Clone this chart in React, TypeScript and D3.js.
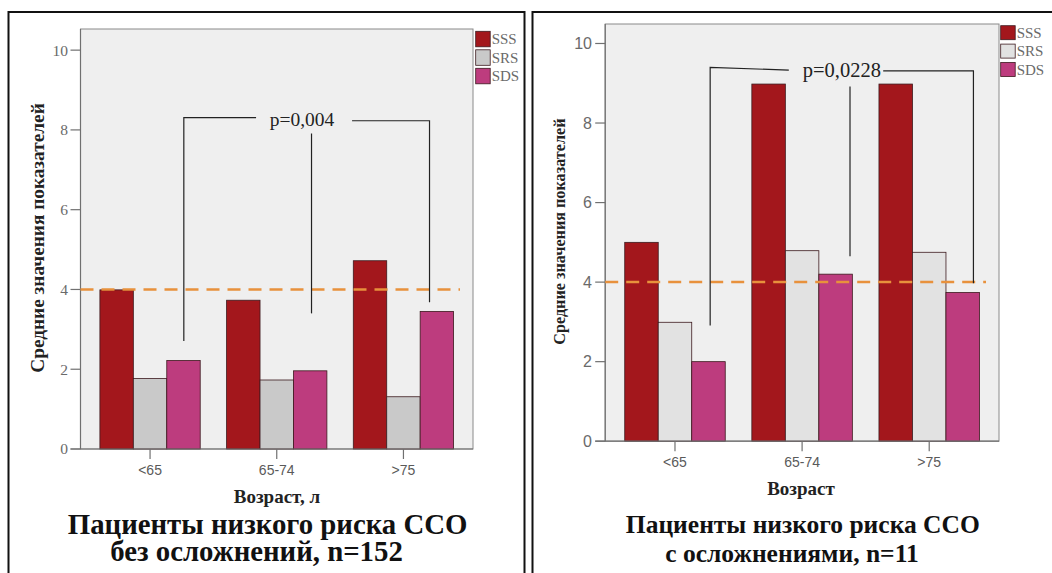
import React from 'react';
import * as d3 from 'd3';

const categories = ['<65', '65-74', '>75'];
const seriesNames = ['SSS', 'SRS', 'SDS'];
const leftSSS = [3.99, 3.73, 4.72];
const leftSRS = [1.77, 1.73, 1.31];
const leftSDS = [2.22, 1.96, 3.45];
const rightSSS = [5.0, 8.98, 8.98];
const rightSRS = [2.99, 4.79, 4.75];
const rightSDS = [2.0, 4.2, 3.74];
const yTicks = [0, 2, 4, 6, 8, 10];
const referenceLevel = 4;
const leftPValue = 'p=0,004';
const rightPValue = 'p=0,0228';
// bracket levels: leftBottom, leftTop, leftLineEnd, midTop, midBottom, rightLineStart, rightBottom
const leftBracket = [2.71, 8.31, 8.31, 7.91, 3.4, 8.23, 3.68];
const rightBracket = [2.91, 9.4, 9.33, 8.92, 4.65, 9.31, 3.97];
const leftTitle = ['Пациенты низкого риска ССО', 'без осложнений, n=152'];
const rightTitle = ['Пациенты низкого риска ССО', 'с осложнениями, n=11'];
const yLabel = 'Средние значения показателей';
const leftXLabel = 'Возраст, л';
const rightXLabel = 'Возраст';

const SERIF = '"Liberation Serif", "Times New Roman", serif';
const SANS = '"Liberation Sans", Arial, sans-serif';

const colorsLeft = ['#a3171c', '#c9c9c9', '#bd3c7e'];
const colorsRight = ['#a3171c', '#e2e2e2', '#bd3c7e'];

type Cfg = {
  left: number; right: number; top: number; bottom: number; yMax: number;
  groupW: number; colors: string[];
  yTickFont: string; yTickSize: number; yTickX: number;
  xTickBaseline: number; xLabelX: number; xLabelY: number; xLabelSize: number;
  yLabelX: number; yLabelY: number; yLabelSize: number;
  legendX: number; legendY: number; legendStep: number; legendH: number;
  bracketFracs: number[]; textDx: number; lineEnds: number[]; pSize: number;
  titleX: number[]; titleY: number[]; titleSize: number;
};

const leftCfg: Cfg = {
  left: 80.5, right: 473, top: 29, bottom: 449, yMax: 10.53, groupW: 100.3, colors: colorsLeft,
  yTickFont: SERIF, yTickSize: 15.5, yTickX: 68,
  xTickBaseline: 475, xLabelX: 277, xLabelY: 503, xLabelSize: 19,
  yLabelX: 37, yLabelY: 238, yLabelSize: 19.3,
  legendX: 475.7, legendY: 31.3, legendStep: 18.5, legendH: 15.5,
  bracketFracs: [0.51, 0.54, 0.28], textDx: -4.6, lineEnds: [-50.6, 45.4], pSize: 19.5,
  titleX: [267.6, 256.5], titleY: [534, 561], titleSize: 28.8,
};

const rightCfg: Cfg = {
  left: 605.2, right: 999, top: 24, bottom: 441.2, yMax: 10.49, groupW: 100.5, colors: colorsRight,
  yTickFont: SANS, yTickSize: 16, yTickX: 592,
  xTickBaseline: 466.5, xLabelX: 801, xLabelY: 495, xLabelSize: 19,
  yLabelX: 559.5, yLabelY: 231.6, yLabelSize: 16.2,
  legendX: 1000.7, legendY: 25.7, legendStep: 18.4, legendH: 14,
  bracketFracs: [0.55, 0.93, 0.82], textDx: 0, lineEnds: [-53, 41.4], pSize: 20.5,
  titleX: [802.8, 792], titleY: [533, 562], titleSize: 25.5,
};

function Panel({ cfg, values, bracket, pText, title, xLabel }: {
  cfg: Cfg; values: number[][]; bracket: number[]; pText: string; title: string[]; xLabel: string;
}) {
  const y = d3.scaleLinear().domain([0, cfg.yMax]).range([cfg.bottom, cfg.top]);
  const x = d3.scalePoint<string>().domain(categories).range([cfg.left, cfg.right]).padding(0.549);
  const inner = d3.scaleBand<string>().domain(seriesNames).range([-cfg.groupW / 2, cfg.groupW / 2]);
  const bw = inner.bandwidth();

  const sdsLeft = (ci: number) => (x(categories[ci]) as number) + (inner('SDS') as number);
  const bx = [0, 1, 2].map((ci) => sdsLeft(ci) + bw * cfg.bracketFracs[ci]);
  const mid = (bx[0] + bx[2]) / 2;
  const textX = mid + cfg.textDx;
  const textY = (y(bracket[2]) + y(bracket[5])) / 2 + cfg.pSize * 0.33;

  return (
    <g>
      <rect x={cfg.left} y={cfg.top} width={cfg.right - cfg.left} height={cfg.bottom - cfg.top}
        fill="#efefef" stroke="#8a8a8a" strokeWidth={1} />
      {categories.map((c, ci) =>
        seriesNames.map((s, si) => {
          const v = values[si][ci];
          return (
            <rect key={c + s}
              x={(x(c) as number) + (inner(s) as number)} y={y(v)}
              width={bw} height={y(0) - y(v)}
              fill={cfg.colors[si]} stroke="#3c1a1e" strokeWidth={0.8} />
          );
        })
      )}
      <line x1={cfg.left} x2={cfg.left} y1={cfg.top} y2={cfg.bottom} stroke="#707070" strokeWidth={1.2} />
      <line x1={cfg.left - 10} x2={cfg.right} y1={cfg.bottom} y2={cfg.bottom} stroke="#707070" strokeWidth={1.2} />
      {yTicks.map((t) => (
        <g key={t}>
          <line x1={cfg.left - 10} x2={cfg.left} y1={y(t)} y2={y(t)} stroke="#707070" strokeWidth={1.2} />
          <text x={cfg.yTickX} y={y(t)} dy="0.35em" textAnchor="end" fontFamily={cfg.yTickFont}
            fontSize={cfg.yTickSize} fill="#6a6a6a">{t}</text>
        </g>
      ))}
      {categories.map((c) => (
        <g key={c}>
          <line x1={x(c)} x2={x(c)} y1={cfg.bottom} y2={cfg.bottom + 10} stroke="#707070" strokeWidth={1.2} />
          <text x={x(c)} y={cfg.xTickBaseline} textAnchor="middle" fontFamily={SANS} fontSize={14}
            fill="#5a5a5a">{c}</text>
        </g>
      ))}
      <line x1={cfg.left} x2={cfg.right - 13} y1={y(referenceLevel)} y2={y(referenceLevel)}
        stroke="#e8913c" strokeWidth={2.5} strokeDasharray="13 8" />
      <g stroke="#222" strokeWidth={1.2} fill="none">
        <polyline points={`${bx[0]},${y(bracket[0])} ${bx[0]},${y(bracket[1])} ${mid + cfg.lineEnds[0]},${y(bracket[2])}`} />
        <line x1={bx[1]} x2={bx[1]} y1={y(bracket[3])} y2={y(bracket[4])} />
        <polyline points={`${mid + cfg.lineEnds[1]},${y(bracket[5])} ${bx[2]},${y(bracket[5])} ${bx[2]},${y(bracket[6])}`} />
      </g>
      <text x={textX} y={textY} textAnchor="middle" fontFamily={SERIF} fontSize={cfg.pSize} fill="#222">{pText}</text>
      {seriesNames.map((s, si) => (
        <g key={s}>
          <rect x={cfg.legendX} y={cfg.legendY + si * cfg.legendStep} width={14.5} height={cfg.legendH}
            fill={cfg.colors[si]} stroke="#3c1a1e" strokeWidth={0.8} />
          <text x={cfg.legendX + 16} y={cfg.legendY + si * cfg.legendStep + cfg.legendH / 2} dy="0.35em"
            fontFamily={SERIF} fontSize={15} fill="#6a6a6a">{s}</text>
        </g>
      ))}
      <text transform={`translate(${cfg.yLabelX},${cfg.yLabelY}) rotate(-90)`} textAnchor="middle" dy="0.35em"
        fontFamily={SERIF} fontWeight="bold" fontSize={cfg.yLabelSize} fill="#222">{yLabel}</text>
      <text x={cfg.xLabelX} y={cfg.xLabelY} textAnchor="middle" fontFamily={SERIF} fontWeight="bold"
        fontSize={cfg.xLabelSize} fill="#222">{xLabel}</text>
      {title.map((t, i) => (
        <text key={i} x={cfg.titleX[i]} y={cfg.titleY[i]} textAnchor="middle" fontFamily={SERIF}
          fontWeight="bold" fontSize={cfg.titleSize} fill="#111">{t}</text>
      ))}
    </g>
  );
}

export default function App() {
  return (
    <div style={{ position: 'absolute', left: 0, top: 0 }}>
      <svg width={1052} height={573} style={{ display: 'block', background: '#fff' }}>
        <rect x={0} y={0} width={1052} height={573} fill="#fff" />
        <rect x={8.5} y={12} width={516} height={580} fill="#fff" stroke="#111" strokeWidth={2} />
        <rect x={532.5} y={12} width={540} height={580} fill="#fff" stroke="#111" strokeWidth={2} />
        <Panel cfg={leftCfg} values={[leftSSS, leftSRS, leftSDS]} bracket={leftBracket}
          pText={leftPValue} title={leftTitle} xLabel={leftXLabel} />
        <Panel cfg={rightCfg} values={[rightSSS, rightSRS, rightSDS]} bracket={rightBracket}
          pText={rightPValue} title={rightTitle} xLabel={rightXLabel} />
      </svg>
    </div>
  );
}
